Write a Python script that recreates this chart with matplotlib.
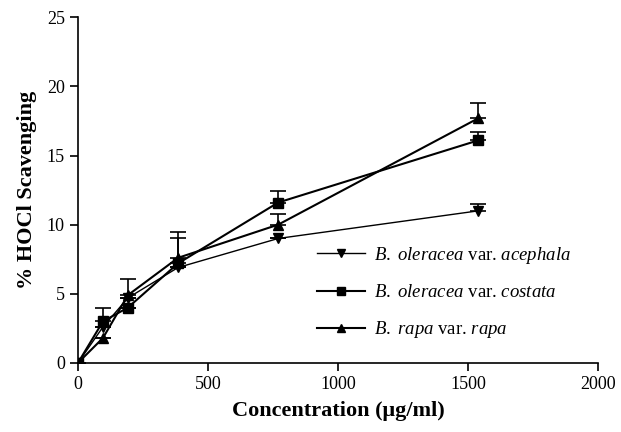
import matplotlib.pyplot as plt
from matplotlib.lines import Line2D
import numpy as np

plt.rcParams['font.family'] = ['Liberation Serif', 'DejaVu Serif']
plt.rcParams['mathtext.fontset'] = 'custom'
plt.rcParams['mathtext.rm'] = 'Liberation Serif'
plt.rcParams['mathtext.it'] = 'Liberation Serif:italic'
plt.rcParams['mathtext.bf'] = 'Liberation Serif:bold'

# Data
conc = [0, 96, 192, 385, 770, 1540]

acephala = [0, 2.6, 4.7, 6.9, 9.0, 11.0]
acephala_err = [0, 0, 0, 0, 0, 0.5]

costata = [0, 3.0, 4.0, 7.2, 11.6, 16.1]
costata_err = [0, 1.0, 0, 1.8, 0.8, 0.6]

rapa = [0, 1.8, 4.9, 7.6, 10.0, 17.7]
rapa_err = [0, 0, 1.2, 1.9, 0.8, 1.1]

labels = [r'$\it{B.\ oleracea}$ var. $\it{acephala}$',
          r'$\it{B.\ oleracea}$ var. $\it{costata}$',
          r'$\it{B.\ rapa}$ var. $\it{rapa}$']

fig = plt.figure(figsize=(6.21, 4.32), dpi=100)
ax = fig.add_axes([0.1256, 0.16, 0.8374, 0.80])

series = [
    (acephala, acephala_err, 'v', 1.0),
    (costata, costata_err, 's', 1.5),
    (rapa, rapa_err, '^', 1.5),
]
handles = []
for (vals, err, mk, lw), lab in zip(series, labels):
    err = np.array(err)
    ax.errorbar(conc, vals, yerr=[np.zeros_like(err), err], color='black',
                marker=mk, markersize=7, linewidth=lw, elinewidth=1.2,
                capsize=6, capthick=1.2)
    handles.append(Line2D([], [], color='black', marker=mk, markersize=6,
                          linewidth=lw, label=lab))

ax.set_xlim(0, 2000)
ax.set_ylim(0, 25)
ax.set_xticks([0, 500, 1000, 1500, 2000])
ax.set_yticks([0, 5, 10, 15, 20, 25])
ax.spines['top'].set_visible(False)
ax.spines['right'].set_visible(False)
ax.spines['left'].set_linewidth(1.2)
ax.spines['bottom'].set_linewidth(1.2)
ax.tick_params(direction='out', length=6, width=1.2, labelsize=13)
ax.set_xlabel('Concentration (\u03bcg/ml)', fontsize=16, fontweight='bold', labelpad=6)
ax.set_ylabel('% HOCl Scavenging', fontsize=16, fontweight='bold', labelpad=7)

ax.legend(handles=handles, loc='upper left', bbox_to_anchor=(317 / 621, 1 - 245 / 432),
          bbox_transform=fig.transFigure, borderpad=0, borderaxespad=0,
          frameon=False, fontsize=13.5, handlelength=2.55, labelspacing=0.96,
          handletextpad=0.5)

plt.savefig('out.png', dpi=100)
